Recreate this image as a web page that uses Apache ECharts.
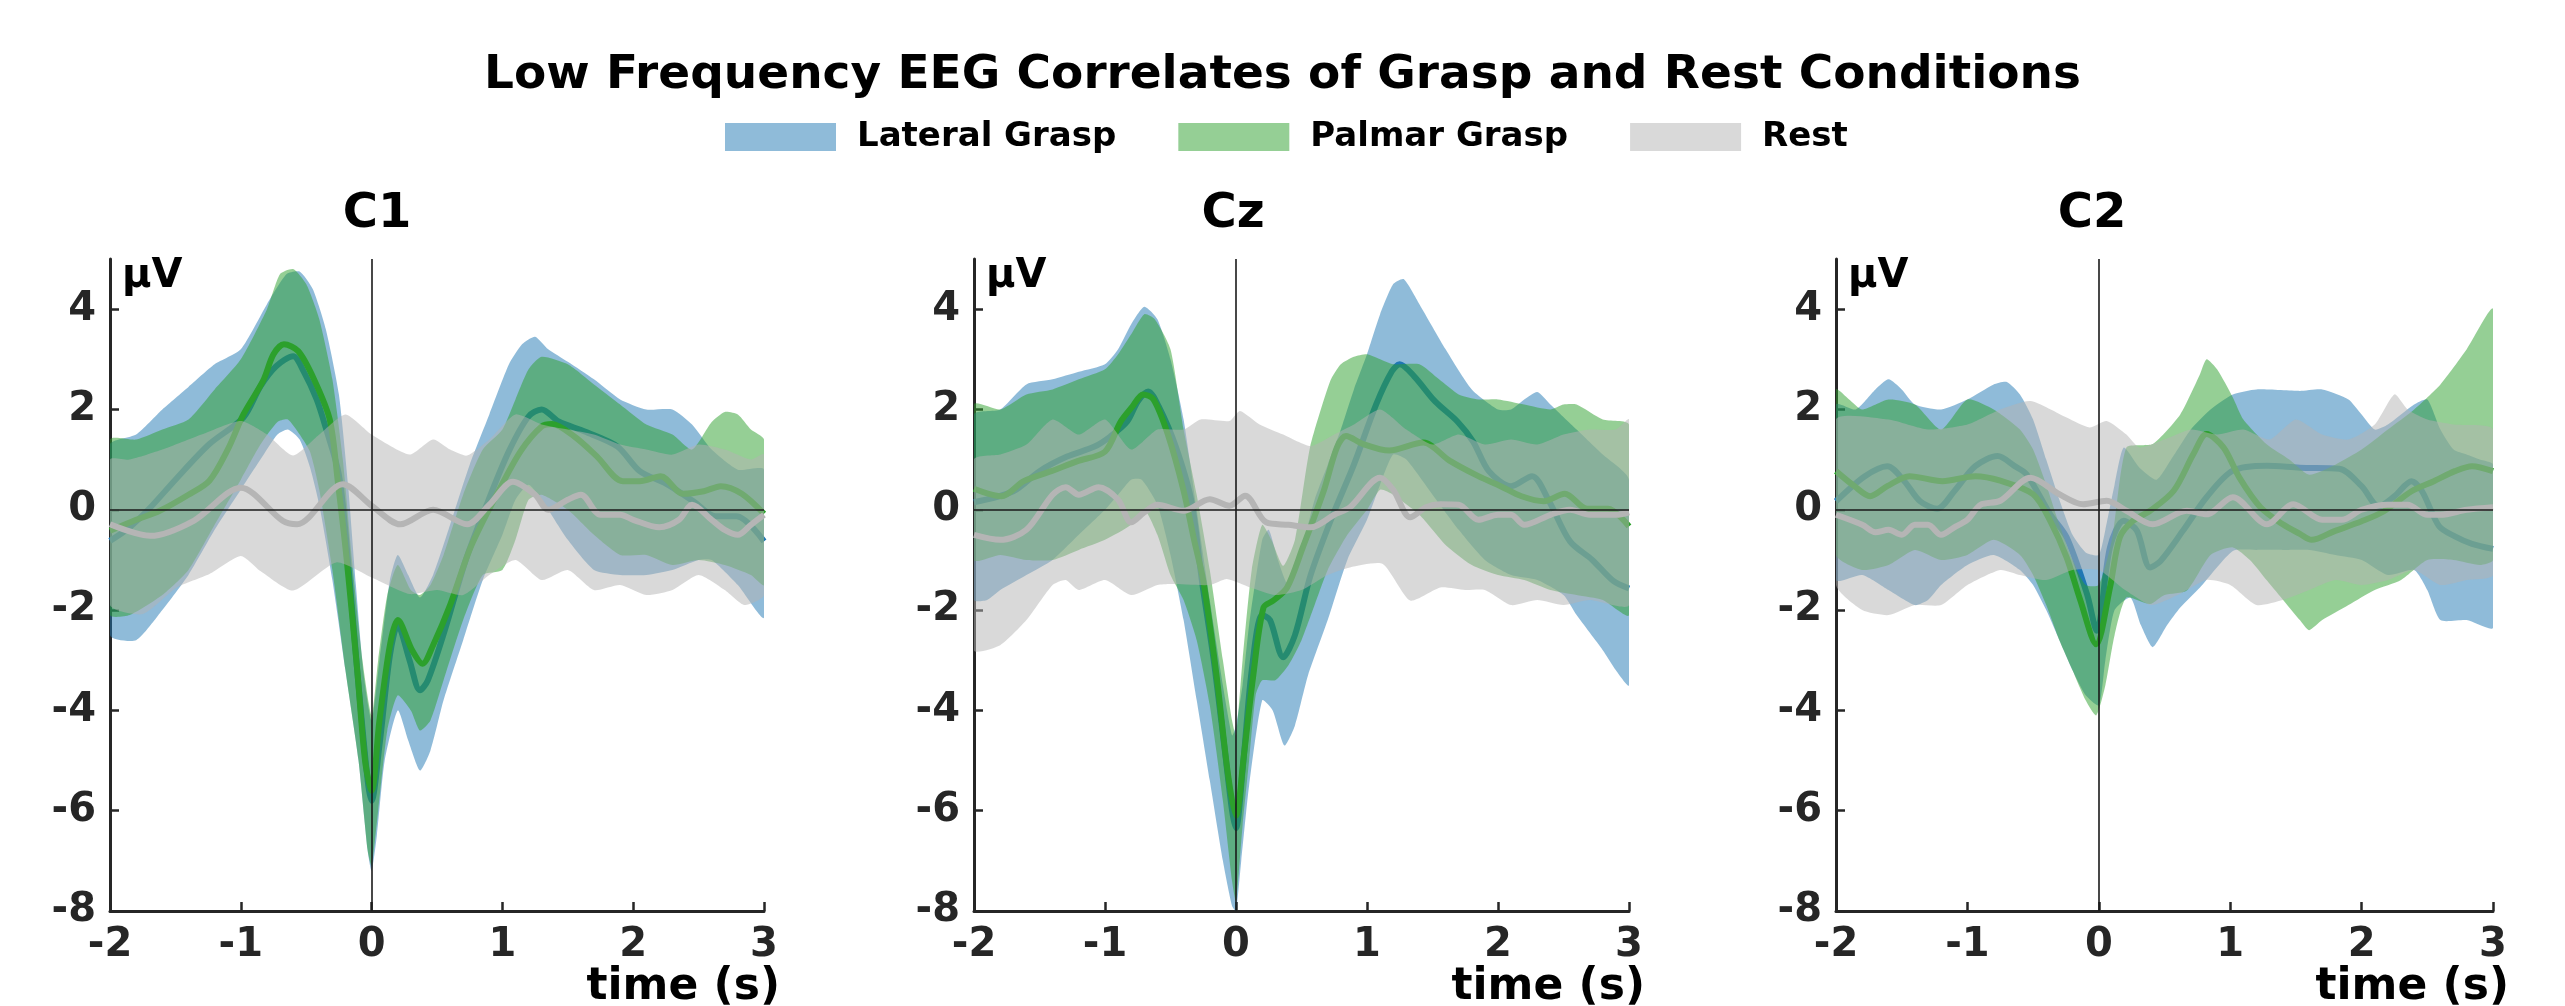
<!DOCTYPE html>
<html>
<head>
<meta charset="utf-8">
<title>Low Frequency EEG Correlates of Grasp and Rest Conditions</title>
<script src="https://cdn.jsdelivr.net/npm/echarts@6/dist/echarts.min.js"></script>
<style>
  html, body { margin: 0; padding: 0; background: #fff; }
  #chart { width: 2565px; height: 1006px; }
</style>
</head>
<body>
<div id="chart"></div>
<script>
// [time (s), µV] pairs
const c1LateralMean = [[-2,-0.62],[-1.85,-0.35],[-1.69,0.05],[-1.5,0.6],[-1.24,1.31],[-0.98,1.84],[-0.85,2.46],[-0.73,2.86],[-0.6,3.06],[-0.52,2.76],[-0.42,2.2],[-0.35,1.63],[-0.25,0.7],[-0.19,-0.73],[-0.11,-3.2],[-0.03,-5.4],[0,-5.8],[0.06,-4.7],[0.14,-2.9],[0.2,-2.3],[0.29,-3.0],[0.37,-3.6],[0.43,-3.4],[0.56,-2.4],[0.72,-1.0],[0.89,0.17],[1.05,1.17],[1.2,1.86],[1.3,2.0],[1.43,1.76],[1.63,1.56],[1.88,1.26],[2.05,0.77],[2.25,0.52],[2.46,0.17],[2.63,-0.13],[2.79,-0.13],[3,-0.63]];
const c1LateralUpper = [[-2,1.3],[-1.8,1.5],[-1.6,2.0],[-1.4,2.45],[-1.2,2.9],[-1.0,3.2],[-0.8,4.1],[-0.65,4.7],[-0.55,4.75],[-0.45,4.4],[-0.35,3.6],[-0.25,2.3],[-0.18,0.5],[-0.12,-1.5],[-0.06,-3.3],[0,-4.2],[0.06,-3.0],[0.14,-1.4],[0.2,-0.9],[0.28,-1.3],[0.37,-1.75],[0.47,-1.3],[0.6,-0.3],[0.75,0.9],[0.9,1.9],[1.05,2.9],[1.15,3.3],[1.25,3.45],[1.35,3.2],[1.5,2.95],[1.7,2.6],[1.9,2.2],[2.1,2.0],[2.3,2.0],[2.45,1.7],[2.6,1.2],[2.8,0.8],[3,0.8]];
const c1LateralLower = [[-2,-2.5],[-1.8,-2.6],[-1.6,-2.0],[-1.4,-1.3],[-1.2,-0.4],[-1.0,0.4],[-0.85,1.0],[-0.72,1.5],[-0.64,1.6],[-0.55,1.4],[-0.47,0.84],[-0.4,0.1],[-0.3,-1.4],[-0.2,-3.2],[-0.1,-5.0],[-0.03,-6.8],[0,-7.2],[0.04,-6.5],[0.1,-5.0],[0.2,-4.0],[0.28,-4.6],[0.37,-5.2],[0.45,-4.8],[0.55,-3.8],[0.7,-2.6],[0.85,-1.4],[1.0,-0.5],[1.1,0.2],[1.2,0.5],[1.3,0.2],[1.5,-0.6],[1.7,-1.2],[1.9,-1.3],[2.1,-1.3],[2.3,-1.2],[2.5,-1.0],[2.6,-1.0],[2.8,-1.5],[3,-2.15]];
const c1PalmarMean = [[-2,-0.42],[-1.8,-0.2],[-1.62,-0.02],[-1.4,0.3],[-1.24,0.58],[-1.1,1.2],[-0.98,1.9],[-0.83,2.57],[-0.75,3.1],[-0.67,3.3],[-0.56,3.16],[-0.44,2.6],[-0.32,1.8],[-0.26,0.6],[-0.19,-1.0],[-0.11,-3.2],[-0.05,-5.0],[0,-5.6],[0.06,-4.2],[0.14,-2.7],[0.2,-2.2],[0.31,-2.8],[0.39,-3.07],[0.47,-2.7],[0.6,-1.9],[0.76,-0.73],[0.97,0.37],[1.14,1.17],[1.3,1.66],[1.38,1.71],[1.55,1.46],[1.72,1.07],[1.92,0.57],[2.05,0.57],[2.21,0.67],[2.38,0.32],[2.54,0.37],[2.67,0.47],[2.83,0.32],[3,-0.08]];
const c1PalmarUpper = [[-2,1.4],[-1.8,1.4],[-1.6,1.6],[-1.4,1.8],[-1.2,2.4],[-1.0,3.0],[-0.8,4.0],[-0.7,4.7],[-0.6,4.8],[-0.5,4.5],[-0.4,3.8],[-0.3,2.6],[-0.22,1.0],[-0.15,-1.0],[-0.07,-3.0],[0,-4.1],[0.05,-3.0],[0.12,-1.7],[0.2,-1.1],[0.3,-1.6],[0.37,-1.7],[0.45,-1.5],[0.55,-0.9],[0.7,0.3],[0.85,1.2],[1.0,1.6],[1.1,2.2],[1.2,2.8],[1.3,3.05],[1.5,2.9],[1.7,2.5],[1.9,2.1],[2.1,1.7],[2.3,1.5],[2.45,1.2],[2.6,1.75],[2.7,1.95],[2.8,1.9],[2.9,1.6],[3,1.4]];
const c1PalmarLower = [[-2,-2.1],[-1.85,-2.1],[-1.6,-1.7],[-1.4,-1.2],[-1.2,-0.3],[-1.0,0.6],[-0.85,1.3],[-0.72,1.75],[-0.64,1.8],[-0.55,1.5],[-0.47,1.15],[-0.4,0.4],[-0.3,-1.2],[-0.2,-3.2],[-0.1,-5.0],[-0.03,-6.8],[0,-7.1],[0.05,-6.0],[0.12,-4.4],[0.2,-3.7],[0.3,-4.0],[0.37,-4.4],[0.45,-4.2],[0.55,-3.4],[0.7,-2.2],[0.85,-1.3],[1.0,-1.2],[1.1,-0.6],[1.2,0.2],[1.3,0.3],[1.5,0.0],[1.7,-0.5],[1.9,-0.9],[2.1,-0.9],[2.3,-1.1],[2.5,-1.0],[2.7,-1.1],[2.9,-1.3],[3,-1.5]];
const c1RestMean = [[-2,-0.29],[-1.69,-0.52],[-1.36,-0.22],[-1.0,0.44],[-0.68,-0.22],[-0.57,-0.29],[-0.22,0.51],[0,0.08],[0.22,-0.29],[0.47,0.0],[0.73,-0.29],[0.9,0.1],[1.08,0.56],[1.25,0.3],[1.35,0.0],[1.5,0.2],[1.6,0.3],[1.75,-0.1],[1.9,-0.1],[2.0,-0.2],[2.2,-0.35],[2.35,-0.2],[2.45,0.1],[2.6,-0.2],[2.7,-0.4],[2.8,-0.5],[2.9,-0.3],[3,-0.1]];
const c1RestUpper = [[-2,1.0],[-1.85,1.0],[-1.6,1.2],[-1.3,1.5],[-1.0,1.77],[-0.8,1.5],[-0.6,1.08],[-0.4,1.5],[-0.2,1.9],[0,1.5],[0.29,1.1],[0.47,1.4],[0.6,1.2],[0.73,1.08],[0.9,1.4],[1.1,1.9],[1.3,1.7],[1.5,1.6],[1.7,1.5],[1.9,1.3],[2.1,1.2],[2.3,1.1],[2.5,1.3],[2.7,1.2],[2.9,1.0],[3,1.1]];
const c1RestLower = [[-2,-1.9],[-1.75,-2.08],[-1.49,-1.55],[-1.24,-1.28],[-1.0,-0.92],[-0.85,-1.22],[-0.6,-1.61],[-0.27,-1.05],[0,-1.35],[0.29,-1.68],[0.5,-1.6],[0.7,-1.7],[0.9,-1.3],[1.1,-1.0],[1.3,-1.4],[1.5,-1.2],[1.7,-1.6],[1.9,-1.5],[2.1,-1.7],[2.3,-1.6],[2.5,-1.3],[2.7,-1.6],[2.85,-1.9],[3,-1.7]];

const czLateralMean = [[-2,0.15],[-1.7,0.37],[-1.5,0.77],[-1.29,1.06],[-1.08,1.26],[-0.96,1.46],[-0.83,1.76],[-0.75,2.16],[-0.67,2.36],[-0.59,2.06],[-0.46,1.26],[-0.34,0.17],[-0.26,-1.42],[-0.17,-3.0],[-0.09,-4.7],[-0.03,-6.0],[0,-6.35],[0.05,-5.2],[0.12,-3.2],[0.2,-2.1],[0.26,-2.2],[0.36,-2.94],[0.45,-2.5],[0.57,-1.3],[0.74,-0.1],[0.9,0.9],[1.07,2.1],[1.19,2.76],[1.25,2.9],[1.36,2.66],[1.52,2.16],[1.69,1.76],[1.81,1.36],[1.93,0.77],[2.1,0.47],[2.26,0.67],[2.39,0.17],[2.55,-0.63],[2.72,-1.0],[2.88,-1.42],[3,-1.57]];
const czLateralUpper = [[-2,1.9],[-1.8,2.0],[-1.6,2.5],[-1.4,2.6],[-1.2,2.75],[-1.0,2.9],[-0.9,3.2],[-0.8,3.7],[-0.7,4.05],[-0.6,3.8],[-0.5,3.0],[-0.4,1.8],[-0.3,0.0],[-0.2,-1.8],[-0.1,-3.5],[-0.03,-4.5],[0,-4.3],[0.05,-3.5],[0.1,-2.3],[0.2,-0.6],[0.25,-0.4],[0.32,-1.0],[0.4,-1.5],[0.5,-0.8],[0.6,0.2],[0.7,0.9],[0.8,1.6],[0.9,2.4],[1.0,3.1],[1.1,3.9],[1.2,4.5],[1.28,4.6],[1.4,4.1],[1.6,3.2],[1.8,2.4],[2.0,2.0],[2.1,2.0],[2.2,2.2],[2.3,2.35],[2.4,2.1],[2.6,1.6],[2.8,1.1],[3,0.6]];
const czLateralLower = [[-2,-1.8],[-1.9,-1.8],[-1.8,-1.6],[-1.6,-1.3],[-1.4,-1.0],[-1.2,-0.5],[-1.0,0.0],[-0.9,0.3],[-0.8,0.6],[-0.72,0.6],[-0.6,0.1],[-0.5,-0.9],[-0.4,-2.2],[-0.3,-3.8],[-0.2,-5.4],[-0.1,-7.0],[-0.03,-7.9],[0,-8.0],[0.04,-7.0],[0.1,-5.5],[0.2,-3.8],[0.28,-4.0],[0.37,-4.7],[0.45,-4.3],[0.55,-3.3],[0.7,-2.2],[0.85,-1.0],[1.0,-0.2],[1.1,0.5],[1.2,1.1],[1.3,1.0],[1.5,0.3],[1.7,-0.4],[1.9,-1.0],[2.1,-1.3],[2.3,-1.4],[2.5,-1.7],[2.6,-2.1],[2.8,-2.8],[2.9,-3.2],[3,-3.5]];
const czPalmarMean = [[-2,0.42],[-1.79,0.27],[-1.62,0.57],[-1.41,0.77],[-1.21,0.97],[-1.0,1.16],[-0.88,1.76],[-0.79,2.06],[-0.71,2.3],[-0.63,2.2],[-0.52,1.5],[-0.4,0.38],[-0.32,-0.6],[-0.25,-1.41],[-0.15,-3.27],[-0.06,-5.3],[0,-6.1],[0.06,-4.9],[0.13,-3.34],[0.21,-1.95],[0.285,-1.81],[0.39,-1.55],[0.51,-0.75],[0.67,0.38],[0.77,1.24],[0.84,1.47],[0.97,1.31],[1.17,1.18],[1.43,1.34],[1.63,0.98],[1.85,0.67],[2.02,0.47],[2.18,0.27],[2.35,0.17],[2.51,0.32],[2.68,0.02],[2.84,0.02],[3,-0.33]];
const czPalmarUpper = [[-2,2.1],[-1.8,2.0],[-1.6,2.3],[-1.4,2.4],[-1.2,2.6],[-1.0,2.8],[-0.9,3.1],[-0.8,3.5],[-0.7,3.9],[-0.62,3.8],[-0.5,3.2],[-0.4,1.6],[-0.3,0.3],[-0.2,-1.2],[-0.1,-3.0],[-0.03,-4.2],[0,-4.5],[0.05,-3.0],[0.12,-1.2],[0.2,-0.3],[0.27,-0.6],[0.36,-1.12],[0.45,-0.6],[0.565,1.24],[0.72,2.57],[0.8,2.9],[0.9,3.05],[1.0,3.1],[1.1,3.0],[1.2,2.9],[1.4,2.9],[1.55,2.6],[1.7,2.3],[1.85,2.2],[2.0,2.2],[2.2,2.1],[2.4,2.0],[2.5,2.1],[2.6,2.1],[2.8,1.8],[3,1.7]];
const czPalmarLower = [[-2,-1.0],[-1.8,-0.9],[-1.6,-1.0],[-1.4,-1.0],[-1.2,-0.8],[-1.0,-0.6],[-0.8,-0.3],[-0.7,0.0],[-0.6,-0.5],[-0.5,-1.3],[-0.4,-1.8],[-0.3,-2.6],[-0.2,-3.9],[-0.1,-5.8],[-0.03,-7.4],[0,-7.8],[0.05,-6.3],[0.1,-5.0],[0.15,-3.7],[0.2,-3.4],[0.3,-3.4],[0.4,-3.1],[0.5,-2.6],[0.6,-1.9],[0.7,-1.2],[0.85,-0.5],[1.0,0.0],[1.1,0.4],[1.2,0.3],[1.4,-0.1],[1.6,-0.7],[1.8,-1.1],[2.0,-1.3],[2.2,-1.4],[2.4,-1.6],[2.6,-1.7],[2.8,-1.8],[3,-2.1]];
const czRestMean = [[-2,-0.5],[-1.8,-0.6],[-1.6,-0.4],[-1.4,0.3],[-1.3,0.45],[-1.2,0.3],[-1.05,0.45],[-0.9,0.2],[-0.8,-0.25],[-0.7,-0.05],[-0.6,0.1],[-0.4,-0.02],[-0.2,0.21],[-0.05,0.08],[0.07,0.28],[0.23,-0.25],[0.4,-0.3],[0.57,-0.35],[0.75,-0.1],[0.87,0.05],[1.1,0.64],[1.2,0.4],[1.33,-0.15],[1.45,0.05],[1.56,0.11],[1.7,0.1],[1.85,-0.2],[2.0,-0.1],[2.1,-0.1],[2.2,-0.3],[2.4,-0.1],[2.55,0.0],[2.7,-0.1],[2.9,-0.1],[3,-0.05]];
const czRestUpper = [[-2,1.0],[-1.8,1.1],[-1.6,1.3],[-1.4,1.8],[-1.2,1.5],[-1.0,1.8],[-0.8,1.2],[-0.6,1.6],[-0.4,1.6],[-0.27,1.8],[-0.05,1.77],[0.03,1.97],[0.18,1.7],[0.36,1.5],[0.57,1.27],[0.75,1.5],[0.9,1.7],[1.1,2.0],[1.3,1.6],[1.5,1.3],[1.7,1.5],[1.9,1.3],[2.1,1.4],[2.3,1.3],[2.5,1.5],[2.7,1.6],[2.9,1.6],[3,1.8]];
const czRestLower = [[-2,-2.8],[-1.8,-2.7],[-1.6,-2.2],[-1.4,-1.5],[-1.3,-1.4],[-1.2,-1.6],[-1.0,-1.4],[-0.8,-1.7],[-0.6,-1.5],[-0.5,-1.48],[-0.2,-1.5],[-0.07,-1.38],[0.11,-1.55],[0.3,-1.7],[0.5,-1.6],[0.7,-1.3],[0.87,-1.15],[1.12,-1.08],[1.33,-1.81],[1.56,-1.55],[1.75,-1.6],[1.9,-1.6],[2.1,-1.9],[2.3,-1.8],[2.5,-1.9],[2.7,-1.8],[3,-1.9]];

const c2LateralMean = [[-2,0.17],[-1.78,0.67],[-1.61,0.87],[-1.48,0.57],[-1.36,0.17],[-1.23,0.02],[-1.1,0.37],[-0.94,0.87],[-0.77,1.07],[-0.64,0.87],[-0.55,0.71],[-0.37,-0.09],[-0.245,-0.55],[-0.09,-1.68],[-0.016,-2.41],[0.085,-0.75],[0.19,-0.22],[0.29,-0.42],[0.39,-1.15],[0.47,-1.02],[0.64,-0.42],[0.82,0.25],[1.02,0.78],[1.28,0.88],[1.53,0.84],[1.83,0.82],[2.0,0.47],[2.13,0.07],[2.25,0.27],[2.38,0.57],[2.46,0.37],[2.59,-0.33],[2.71,-0.53],[2.84,-0.68],[3,-0.78]];
const c2LateralUpper = [[-2,2.1],[-1.85,2.0],[-1.7,2.4],[-1.6,2.6],[-1.5,2.4],[-1.4,2.1],[-1.2,2.0],[-1.0,2.2],[-0.8,2.5],[-0.7,2.55],[-0.6,2.3],[-0.5,1.8],[-0.4,1.0],[-0.3,0.2],[-0.2,-0.5],[-0.1,-0.85],[0,-0.9],[0.05,-0.4],[0.12,0.5],[0.19,1.24],[0.31,0.84],[0.44,0.6],[0.55,1.0],[0.7,1.6],[0.85,2.0],[1.02,2.3],[1.2,2.4],[1.53,2.37],[1.7,2.4],[1.9,2.2],[2.0,1.9],[2.1,1.6],[2.2,1.7],[2.4,2.1],[2.5,2.2],[2.6,1.6],[2.7,1.2],[2.8,1.1],[2.9,1.0],[3,0.9]];
const c2LateralLower = [[-2,-1.4],[-1.8,-1.3],[-1.6,-1.6],[-1.4,-1.9],[-1.3,-1.8],[-1.2,-1.5],[-1.0,-1.1],[-0.8,-0.9],[-0.6,-1.2],[-0.5,-1.5],[-0.4,-2.0],[-0.3,-2.6],[-0.2,-3.2],[-0.1,-3.7],[0,-3.9],[0.05,-3.0],[0.12,-2.0],[0.24,-1.75],[0.32,-2.3],[0.41,-2.74],[0.52,-2.3],[0.62,-1.95],[0.77,-1.55],[1.02,-0.82],[1.2,-0.8],[1.4,-0.8],[1.6,-0.8],[1.8,-0.9],[2.0,-1.0],[2.2,-1.3],[2.4,-1.2],[2.5,-1.6],[2.6,-2.2],[2.8,-2.2],[3,-2.35]];
const c2PalmarMean = [[-2,0.77],[-1.86,0.47],[-1.74,0.27],[-1.61,0.47],[-1.44,0.67],[-1.19,0.57],[-0.94,0.67],[-0.75,0.58],[-0.5,0.31],[-0.37,-0.22],[-0.245,-0.95],[-0.14,-1.81],[-0.02,-2.68],[0.085,-1.55],[0.16,-0.55],[0.26,-0.22],[0.39,-0.02],[0.57,0.38],[0.72,1.11],[0.82,1.51],[0.95,1.24],[1.07,0.64],[1.23,0.05],[1.4,-0.29],[1.53,-0.48],[1.62,-0.6],[1.79,-0.43],[2.0,-0.23],[2.17,-0.03],[2.38,0.37],[2.55,0.57],[2.71,0.77],[2.84,0.87],[3,0.77]];
const c2PalmarUpper = [[-2,2.4],[-1.9,2.2],[-1.8,2.0],[-1.6,2.2],[-1.4,2.1],[-1.2,1.6],[-1.0,2.2],[-0.8,2.0],[-0.6,1.6],[-0.5,1.2],[-0.4,0.5],[-0.3,-0.3],[-0.2,-1.0],[-0.1,-1.5],[0,-1.5],[0.1,-0.6],[0.21,1.24],[0.41,1.31],[0.62,1.9],[0.77,2.7],[0.82,3.0],[0.9,2.8],[1.02,2.24],[1.1,1.8],[1.28,1.3],[1.45,1.0],[1.6,0.7],[1.8,0.9],[2.0,1.2],[2.2,1.6],[2.4,2.0],[2.6,2.5],[2.8,3.2],[3,4.0]];
const c2PalmarLower = [[-2,-0.9],[-1.8,-1.2],[-1.6,-1.1],[-1.4,-0.8],[-1.2,-1.0],[-1.0,-0.9],[-0.8,-0.6],[-0.6,-0.9],[-0.5,-1.3],[-0.4,-1.9],[-0.3,-2.6],[-0.2,-3.2],[-0.1,-3.8],[-0.02,-4.1],[0.05,-3.5],[0.12,-2.5],[0.21,-1.75],[0.39,-1.88],[0.5,-1.7],[0.67,-1.61],[0.85,-0.9],[1.02,-0.75],[1.15,-1.0],[1.28,-1.41],[1.53,-2.2],[1.6,-2.4],[1.7,-2.2],[1.9,-1.9],[2.1,-1.6],[2.3,-1.4],[2.5,-1.0],[2.7,-1.0],[2.9,-1.1],[3,-1.0]];
const c2RestMean = [[-2,-0.1],[-1.8,-0.3],[-1.7,-0.45],[-1.6,-0.4],[-1.5,-0.5],[-1.4,-0.3],[-1.3,-0.3],[-1.2,-0.5],[-1.1,-0.35],[-1.0,-0.2],[-0.9,0.1],[-0.75,0.18],[-0.52,0.64],[-0.3,0.31],[-0.12,0.11],[0.06,0.18],[0.21,-0.02],[0.41,-0.29],[0.67,-0.02],[0.82,-0.09],[1.02,0.25],[1.28,-0.29],[1.48,0.11],[1.7,-0.2],[1.85,-0.2],[2.0,0.0],[2.2,0.1],[2.35,0.1],[2.5,-0.1],[2.6,-0.1],[2.8,0.0],[3,0.05]];
const c2RestUpper = [[-2,1.8],[-1.6,1.8],[-1.3,1.6],[-1.0,1.7],[-0.75,2.0],[-0.52,2.17],[-0.245,1.84],[-0.07,1.64],[0.06,1.77],[0.21,1.5],[0.31,1.24],[0.5,1.4],[0.7,1.6],[0.9,1.5],[1.1,1.6],[1.3,1.4],[1.5,1.8],[1.7,1.5],[1.9,1.4],[2.1,1.7],[2.25,2.3],[2.35,2.0],[2.5,1.8],[2.7,1.7],[3,1.6]];
const c2RestLower = [[-2,-1.5],[-1.8,-2.0],[-1.6,-2.1],[-1.4,-1.9],[-1.2,-1.9],[-1.0,-1.5],[-0.75,-1.2],[-0.6,-1.3],[-0.4,-1.4],[-0.2,-1.2],[0,-1.2],[0.2,-1.6],[0.4,-1.9],[0.6,-1.7],[0.82,-1.4],[1.0,-1.5],[1.2,-1.9],[1.4,-1.8],[1.6,-1.6],[1.8,-1.4],[2.0,-1.5],[2.2,-1.4],[2.4,-1.2],[2.6,-1.5],[2.8,-1.4],[3,-1.3]];

const conditions = ['Lateral Grasp', 'Palmar Grasp', 'Rest'];
const yTicks = [-8, -6, -4, -2, 0, 2, 4];
const xTicks = [-2, -1, 0, 1, 2, 3];

// panel layout (px)
const panels = [
  { title: 'C1', left: 110, width: 654, titleX: 372,
    data: [[c1LateralMean, c1LateralUpper, c1LateralLower], [c1PalmarMean, c1PalmarUpper, c1PalmarLower], [c1RestMean, c1RestUpper, c1RestLower]] },
  { title: 'Cz', left: 974, width: 655, titleX: 1228,
    data: [[czLateralMean, czLateralUpper, czLateralLower], [czPalmarMean, czPalmarUpper, czPalmarLower], [czRestMean, czRestUpper, czRestLower]] },
  { title: 'C2', left: 1836, width: 657, titleX: 2087,
    data: [[c2LateralMean, c2LateralUpper, c2LateralLower], [c2PalmarMean, c2PalmarUpper, c2PalmarLower], [c2RestMean, c2RestUpper, c2RestLower]] },
];
const gridTop = 259;
const gridHeight = 652;

const bandColors = ['rgba(31,119,180,0.5)', 'rgba(44,160,44,0.5)', 'rgba(179,179,179,0.5)'];
const lineColors = ['#1f77b4', '#2ca02c', '#b5b5b5'];
const lineWidths = [6, 6, 6];
const FONT = 'DejaVu Sans';
const AXIS_COLOR = '#262626';

// draw order: band then line per condition, so later bands tint earlier lines
function bandSeries(name, idx, upper, lower, k) {
  const color = bandColors[k];
  return {
    name: name,
    type: 'custom',
    xAxisIndex: idx,
    yAxisIndex: idx,
    z: 2 + 2 * k,
    clip: true,
    silent: true,
    itemStyle: { color: color },
    encode: { x: 0, y: 1 },
    data: upper,
    renderItem: function (params, api) {
      // whole band drawn once as one polygon
      if (params.dataIndex !== 0) return null;
      const pts = upper.concat(lower.slice().reverse()).map(p => api.coord(p));
      return {
        type: 'polygon',
        shape: { points: pts, smooth: 0.2 },
        style: { fill: color, stroke: null }
      };
    }
  };
}

function meanSeries(idx, data, k) {
  return {
    name: conditions[k] + ' mean',
    type: 'line',
    xAxisIndex: idx,
    yAxisIndex: idx,
    z: 3 + 2 * k,
    data: data,
    symbol: 'none',
    smooth: 0.3,
    silent: true,
    lineStyle: { color: lineColors[k], width: lineWidths[k] },
    itemStyle: { color: lineColors[k] }
  };
}

const grid = [], xAxis = [], yAxis = [], series = [], graphic = [];
const labelStyle = { fontSize: 40, fontWeight: 'bold', color: AXIS_COLOR, fontFamily: FONT };

panels.forEach((p, i) => {
  grid.push({ left: p.left, top: gridTop, width: p.width, height: gridHeight });
  xAxis.push({
    gridIndex: i, type: 'value', min: -2, max: 3, interval: 1,
    axisLine: { show: true, onZero: false, lineStyle: { color: AXIS_COLOR, width: 3 } },
    axisTick: { show: true, inside: true, length: 9, lineStyle: { color: AXIS_COLOR, width: 2.5 } },
    axisLabel: Object.assign({ margin: 15, customValues: xTicks }, labelStyle),
    splitLine: { show: false }
  });
  yAxis.push({
    gridIndex: i, type: 'value', min: -8, max: 5, interval: 1,
    axisLine: { show: true, onZero: false, lineStyle: { color: AXIS_COLOR, width: 3 } },
    axisTick: { show: true, inside: true, length: 9, customValues: yTicks, lineStyle: { color: AXIS_COLOR, width: 2.5 } },
    axisLabel: Object.assign({ margin: 14, customValues: yTicks }, labelStyle),
    splitLine: { show: false }
  });

  p.data.forEach((d, k) => {
    series.push(bandSeries(conditions[k], i, d[1], d[2], k));
    const line = meanSeries(i, d[0], k);
    if (k === 2) {
      line.markLine = {
        silent: true,
        z: 9,
        symbol: ['none', 'none'],
        label: { show: false },
        lineStyle: { color: '#1a1a1a', width: 1.6, type: 'solid' },
        data: [{ yAxis: 0 }, { xAxis: 0 }]
      };
    }
    series.push(line);
  });

  graphic.push({
    type: 'text', left: p.left + 12, top: gridTop - 2,
    style: { text: 'µV', fill: '#000', font: 'bold 40px "' + FONT + '"' }
  });
  graphic.push({
    type: 'text', right: 2565 - (p.left + p.width + 16), top: 966,
    style: { text: 'time (s)', fill: '#000', font: 'bold 44px "' + FONT + '"' }
  });
});

const titles = [{
  text: 'Low Frequency EEG Correlates of Grasp and Rest Conditions',
  left: 'center', top: 47,
  textStyle: { fontSize: 47, fontWeight: 'bold', color: '#000', fontFamily: FONT }
}].concat(panels.map(p => ({
  text: p.title, left: p.titleX, top: 186, textAlign: 'center',
  textStyle: { fontSize: 48, fontWeight: 'bold', color: '#000', fontFamily: FONT }
})));

const chart = echarts.init(document.getElementById('chart'), null, { renderer: 'canvas' });
chart.setOption({
  backgroundColor: '#fff',
  animation: false,
  title: titles,
  legend: {
    data: conditions,
    top: 120, left: 725,
    padding: 0,
    icon: 'rect',
    itemWidth: 111, itemHeight: 28, itemGap: 62,
    selectedMode: false,
    textStyle: { fontSize: 34, fontWeight: 'bold', color: '#000', fontFamily: FONT, padding: [0, 0, 0, 16] }
  },
  grid: grid,
  xAxis: xAxis,
  yAxis: yAxis,
  series: series,
  graphic: graphic
});
</script>
</body>
</html>
